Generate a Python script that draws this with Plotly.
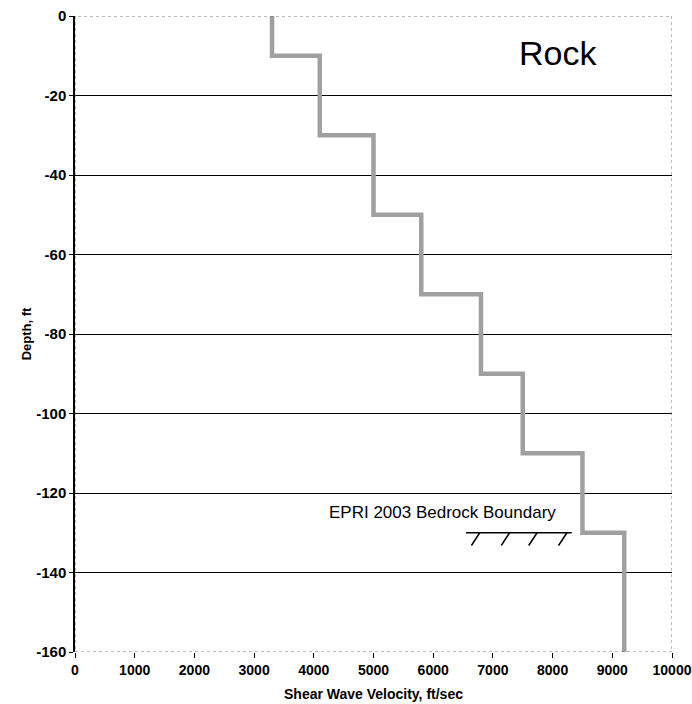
import plotly.graph_objects as go

# Layer profile data
layer_top = [0, -10, -30, -50, -70, -90, -110, -130]
layer_bottom = [-10, -30, -50, -70, -90, -110, -130, -160]
velocity = [3300, 4100, 5000, 5800, 6800, 7500, 8500, 9200]

x_ticks = [0, 1000, 2000, 3000, 4000, 5000, 6000, 7000, 8000, 9000, 10000]
y_ticks = [0, -20, -40, -60, -80, -100, -120, -140, -160]

boundary_depth = -130
boundary_x = [6550, 8320]
hatch_x = [6720, 7220, 7680, 8180]

FONT = "Arial, Liberation Sans, sans-serif"

xs, ys = [], []
for v, t, b in zip(velocity, layer_top, layer_bottom):
    xs += [v, v]
    ys += [t, b]

fig = go.Figure()
fig.add_trace(go.Scatter(x=xs, y=ys, mode="lines",
                         line=dict(color="#a0a0a0", width=4.5),
                         showlegend=False, hoverinfo="skip"))

# bedrock boundary
fig.add_trace(go.Scatter(x=boundary_x, y=[boundary_depth, boundary_depth], mode="lines",
                         line=dict(color="black", width=1.5), showlegend=False, hoverinfo="skip"))
for hx in hatch_x:
    fig.add_trace(go.Scatter(x=[hx + 60, hx - 80], y=[boundary_depth, boundary_depth - 3.2], mode="lines",
                             line=dict(color="black", width=1.5), showlegend=False, hoverinfo="skip"))

# plot border (dotted)
fig.add_shape(type="rect", xref="x", yref="y", x0=0, x1=10000, y0=-160, y1=0,
              line=dict(color="#777777", width=1, dash="dot"), layer="above")

fig.add_annotation(x=8090, y=-9.3, text="Rock", showarrow=False,
                   font=dict(family=FONT, size=34, color="black"))
fig.add_annotation(x=6160, y=-124.8, text="EPRI 2003 Bedrock Boundary", showarrow=False,
                   font=dict(family=FONT, size=17, color="black"))

fig.update_xaxes(range=[0, 10000], tickvals=x_ticks, ticktext=[f"<b>{t}</b>" for t in x_ticks],
                 showgrid=False, zeroline=False, showline=False, automargin=False,
                 ticklabeloverflow="allow",
                 ticks="outside", ticklen=5, tickcolor="black",
                 tickfont=dict(family=FONT, size=14, color="black"),
                 title=dict(text="<b>Shear Wave Velocity, ft/sec</b>", standoff=12,
                            font=dict(family=FONT, size=14, color="black")))
fig.update_yaxes(range=[-160, 0], tickvals=y_ticks, ticktext=[f"<b>{t}</b>" for t in y_ticks],
                 showgrid=True, gridcolor="black", gridwidth=1, zeroline=False,
                 showline=True, linecolor="black", linewidth=1.5, automargin=False,
                 ticklabeloverflow="allow",
                 ticks="outside", ticklen=4, tickcolor="black",
                 tickfont=dict(family=FONT, size=15, color="black"),
                 title=dict(text="<b>Depth, ft</b>", standoff=2,
                            font=dict(family=FONT, size=13, color="black")))

# body margin removed via post_script, so figure coordinates equal page coordinates
fig.update_layout(width=692, height=704, margin=dict(l=75, r=20, t=16, b=52),
                  plot_bgcolor="white", paper_bgcolor="white")

fig.write_html("out.html", config={"displayModeBar": False},
               post_script="document.body.style.margin='0';document.body.style.overflow='hidden';")
